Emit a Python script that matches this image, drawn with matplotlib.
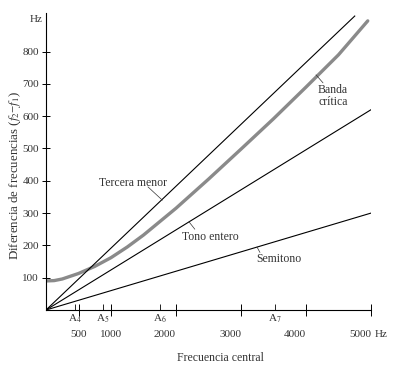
import matplotlib
matplotlib.use("Agg")
import matplotlib.pyplot as plt

# datos
fc_banda = [0, 125, 250, 500, 750, 1000, 1250, 1500, 2000, 2500, 3000, 3500, 4000, 4500, 4950]
ancho_banda = [90, 91, 96, 113, 135, 162, 195, 232, 315, 405, 498, 592, 690, 790, 895]

fc_tercera = [0, 4750]
dif_tercera = [0, 910]
fc_tono = [0, 5000]
dif_tono = [0, 620]
fc_semitono = [0, 5000]
dif_semitono = [0, 300]

yticks = [100, 200, 300, 400, 500, 600, 700, 800]
xticks = [500, 1000, 2000, 3000, 4000, 5000]
xtick_labels = ["500", "1000", "2000", "3000", "4000", "5000"]
notas = [440, 880, 1760, 3520]
notas_labels = ["A$_4$", "A$_5$", "A$_6$", "A$_7$"]

plt.rcParams["font.family"] = ["Liberation Serif", "DejaVu Serif"]
plt.rcParams["mathtext.fontset"] = "stix"

fig = plt.figure(figsize=(4.05, 3.72), dpi=100)
ax = fig.add_axes([46 / 405, 62 / 372, 325 / 405, 297.2 / 372])

gris = "#333333"
ax.plot(fc_banda, ancho_banda, color="#8a8a8a", lw=2.4, solid_capstyle="round")
ax.plot(fc_tercera, dif_tercera, color="black", lw=0.8)
ax.plot(fc_tono, dif_tono, color="black", lw=0.8)
ax.plot(fc_semitono, dif_semitono, color="black", lw=0.8)

ax.set_xlim(0, 5000)
ax.set_ylim(0, 920)
for s in ["top", "right"]:
    ax.spines[s].set_visible(False)
for s in ["left", "bottom"]:
    ax.spines[s].set_linewidth(0.8)

ax.set_yticks(yticks)
ax.set_yticklabels([str(v) for v in yticks])
ax.tick_params(axis="y", direction="inout", length=6, width=0.7, labelsize=8,
               labelcolor=gris, pad=2)

ax.set_xticks(xticks)
ax.set_xticklabels(xtick_labels)
ax.tick_params(axis="x", which="major", direction="inout", length=9, width=0.7,
               labelsize=8, labelcolor=gris, pad=10)
# las etiquetas de 2000 a 5000 quedan a la izquierda de su marca
for lab in ax.get_xticklabels()[2:]:
    lab.set_horizontalalignment("right")
ax.set_xticks(notas, minor=True)
ax.set_xticklabels(notas_labels, minor=True)
ax.tick_params(axis="x", which="minor", direction="in", length=4, width=0.6,
               labelsize=8, labelcolor=gris, pad=2)

ax.text(-0.01, 900, "Hz", transform=ax.get_yaxis_transform(), ha="right",
        va="center", fontsize=8, color=gris)
ax.text(5060, -0.084, "Hz", transform=ax.get_xaxis_transform(), ha="left",
        va="center", fontsize=8, color=gris)
ax.text(2677, -0.16, "Frecuencia central", transform=ax.get_xaxis_transform(),
        ha="center", va="center", fontsize=8.5, color=gris)
ax.text(-0.095, 0.454, "Diferencia de frecuencias ($f_2$\u2212$f_1$)",
        transform=ax.transAxes, rotation=90, ha="center", va="center",
        fontsize=9.3, color=gris)

etiquetas = [
    ("Tercera menor", (1338, 393), (1790, 340), (1569, 381)),
    ("Tono entero", (2523, 226), (2200, 273), (2290, 250)),
    ("Semitono", (3585, 158), (3246, 195), (3292, 178)),
    ("Banda\ncrítica", (4415, 663), (4154, 728), (4262, 703)),
]
for txt, pos, punto, fin in etiquetas:
    ax.text(pos[0], pos[1], txt, ha="center", va="center", fontsize=8.5,
            color=gris, linespacing=1.0)
    ax.annotate("", xy=punto, xytext=fin,
                arrowprops=dict(arrowstyle="-", lw=0.5, color=gris,
                                shrinkA=0, shrinkB=0))

fig.savefig("out.png", dpi=100)
